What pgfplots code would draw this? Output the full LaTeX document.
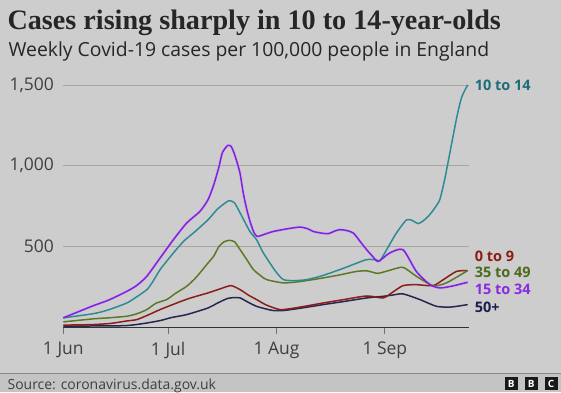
\documentclass[border=0pt]{standalone}
\usepackage{pgfplots}
\pgfplotsset{compat=1.18}
\usepackage{fontspec}
\setmainfont{Open Sans}
\newfontfamily\titlefont{Liberation Serif}
\definecolor{bg}{HTML}{CDCDCD}
\definecolor{footbg}{HTML}{C4C4C4}
\definecolor{footline}{HTML}{8A8A8A}
\definecolor{tealc}{HTML}{2E8A94}
\definecolor{tealt}{HTML}{1D6E7A}
\definecolor{purc}{HTML}{7F22DA}
\definecolor{purt}{HTML}{8A2BE2}
\definecolor{grnc}{HTML}{5B7A25}
\definecolor{grnt}{HTML}{4C6A1C}
\definecolor{redc}{HTML}{8C1D1A}
\definecolor{redt}{HTML}{8C1C13}
\definecolor{navc}{HTML}{26264F}
\definecolor{navt}{HTML}{1E1E4E}
\definecolor{txt}{HTML}{3F3F3F}

\pgfplotstableread{
d v
0 60
8.7 86
13 110
18.2 152
21 190
23.9 234
25.5 280
27.7 358
31.5 461
34.5 535
37.2 584
41.4 666
44 730
46 765
47.5 785
49 770
50.6 708
52 650
53.5 590
55.3 543
57 470
59.1 399
61 340
63 296
66 290
69.6 296
74 320
79.1 358
83 390
86.8 420
89.6 418
90.6 412
92.5 481
95.3 584
98.2 666
100 660
101.5 642
103 660
104.4 687
106 730
107.7 790
109.1 913
110.6 1080
112.6 1302
114 1425
115.7 1500
}\teal

\pgfplotstableread{
d v
0 60
4 95
8.7 136
13 170
18.2 224
21 260
23.9 317
27.7 430
31.5 543
35.3 646
39.1 718
41.4 790
43 880
44.5 990
45.5 1080
47 1125
48 1120
49 1070
50.5 960
51.5 830
52.5 730
53.5 650
54.5 590
55.5 563
58 580
60.1 594
64 610
67.7 621
70 610
71.5 594
73.5 585
75.8 580
77.5 595
79.1 605
81 600
83 584
85 530
86.8 481
88.5 440
90.1 409
93.4 461
97.2 481
101 347
104.9 265
107.7 245
111 255
115.7 280
}\purple

\pgfplotstableread{
d v
0 35
8.7 54
13 60
18.2 70
21 85
23.9 111
26.5 150
29.6 173
32 210
35.3 255
38 310
41.4 399
43 440
44.5 500
46 530
47.5 539
49 530
50.6 481
52.5 420
54.4 358
56.5 320
58.2 296
63 276
68 285
74.4 307
79 325
83.9 347
87 350
90 335
93.4 354
97.2 372
101 317
105.8 259
109.6 276
115.7 352
}\green

\pgfplotstableread{
d v
0 15
8 18
13.4 25
18 40
21 49
24 75
27.7 111
32.5 152
36 180
41.4 214
45 240
48 259
50.6 234
53 200
55.3 173
58 140
62 111
66 120
70 135
74.4 152
80 172
86.8 195
91.5 183
94 215
97.2 259
101 265
105.8 259
109 300
112.5 347
115.7 352
}\red

\pgfplotstableread{
d v
0 8
10 10
18 12
23 25
27.7 43
31 62
35.3 80
41.4 121
44 150
47 180
49 185
50.6 183
53 155
55.3 131
58 115
60.1 105
63 105
68 120
74.4 142
80 160
86.8 183
91.5 193
94 200
97.2 208
102 173
106.8 131
111 127
115.7 142
}\navy

\begin{document}
\begin{tikzpicture}[x=1pt,y=1pt]
\fill[bg] (0,0) rectangle (561,-393);
\fill[footbg] (0,-374) rectangle (561,-393);
\draw[footline, line width=0.8pt] (0,-374) -- (561,-374);
\useasboundingbox (0,0) rectangle (561,-393);
\node[anchor=base west, inner sep=0, text=black!85] at (7,-30) {\titlefont\bfseries\fontsize{28.2}{28.2}\selectfont Cases rising sharply in 10 to 14-year-olds};
\node[anchor=base west, inner sep=0, text=black!85] at (8,-57) {\fontsize{19.4}{19.4}\selectfont Weekly Covid-19 cases per 100,000 people in England};
\node[anchor=base west, inner sep=0, text=txt] at (7,-390) {\fontsize{14}{14}\selectfont Source: coronavirus.data.gov.uk};
\foreach \bx/\bl in {505/B,525/B,545/C}{
  \fill[black!90] (\bx,-378) rectangle ++(13,-13);
  \node[text=white, inner sep=0, font=\bfseries\fontsize{10}{10}\selectfont] at (\bx+6.5,-384.5) {\bl};
}
\begin{axis}[
  at={(63pt,-328pt)}, anchor=south west,
  scale only axis, width=406pt, height=243pt,
  xmin=0, xmax=116, ymin=0, ymax=1500,
  clip=false,
  axis x line*=bottom, axis y line*=left,
  x axis line style={draw=none}, y axis line style={draw=none},
  ytick={500,1000,1500},
  ymajorgrids,
  grid style={draw=black!35, line width=0.6pt},
  extra y ticks={0}, extra y tick labels={},
  extra y tick style={grid style={draw=black!80, line width=1.4pt}},
  xtick={0,30,61,92},
  xticklabels={1 Jun,1 Jul,1 Aug,1 Sep},
  tick align=outside,
  major tick length=6pt,
  xtick style={draw=black!55, line width=0.8pt},
  ytick style={draw=none},
  ticklabel style={text=txt, font=\fontsize{17.5}{17.5}\selectfont},
  xticklabel style={yshift=-5pt},
  /pgf/number format/assume math mode=true,
  /pgf/number format/1000 sep={,},
  every axis plot/.append style={line width=1.5pt, line join=round, smooth, tension=0.4},
]
\addplot[draw=purt!40!white, opacity=0.6, line width=3pt] table[x=d,y=v] {\purple};
\addplot[draw=navc] table[x=d,y=v] {\navy};
\addplot[draw=redc] table[x=d,y=v] {\red};
\addplot[draw=grnc] table[x=d,y=v] {\green};
\addplot[draw=tealc] table[x=d,y=v] {\teal};
\addplot[draw=purc] table[x=d,y=v] {\purple};
\begin{scope}[every node/.style={anchor=west, inner sep=0, font=\bfseries\fontsize{14.5}{14.5}\selectfont}]
\node[text=tealt] at (axis cs:117.7,1500) {10 to 14};
\node[text=redt] at (axis cs:117.7,438) {0 to 9};
\node[text=grnt] at (axis cs:117.7,339) {35 to 49};
\node[text=purt] at (axis cs:117.7,234) {15 to 34};
\node[text=navt] at (axis cs:117.7,123) {50+};
\end{scope}
\end{axis}
\end{tikzpicture}
\end{document}
